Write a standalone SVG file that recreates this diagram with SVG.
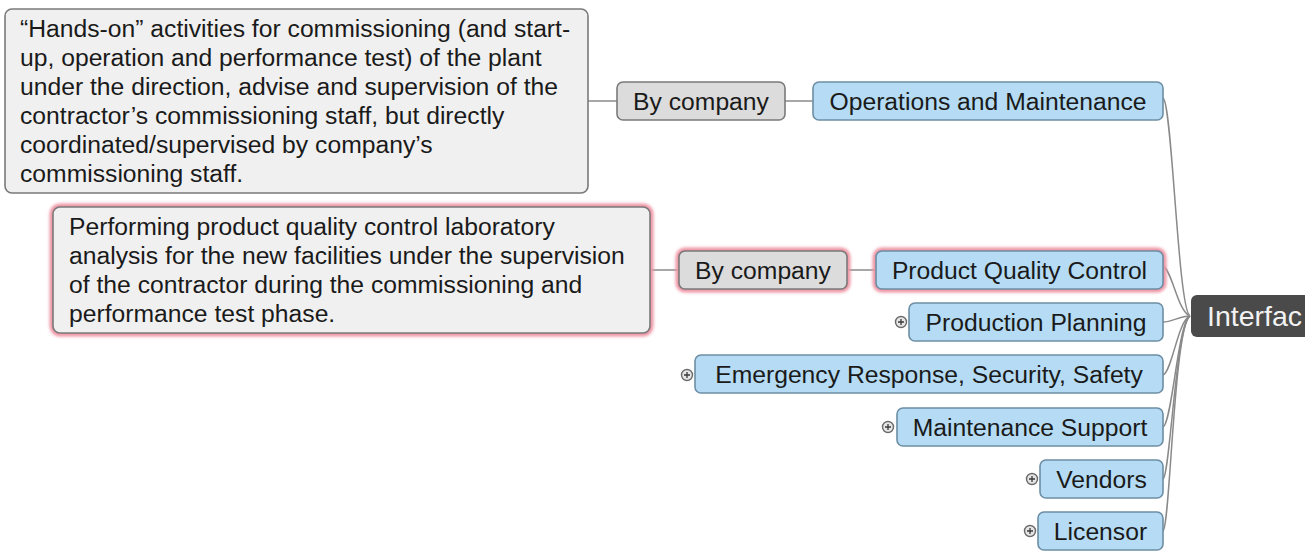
<svg xmlns="http://www.w3.org/2000/svg" width="1316" height="555" viewBox="0 0 1316 555">
  <style>
    text { font-family: "Liberation Sans", Arial, sans-serif; font-size: 24.7px; fill: #1a1a1a; }
    .note { fill: #f0f0f0; stroke: #7a7a7a; stroke-width: 1.6; }
    .tag { fill: #dcdcdc; stroke: #7a7a7a; stroke-width: 1.6; }
    .topic { fill: #b5dcf4; stroke: #6d8ea4; stroke-width: 1.6; }
    .root { fill: #4a4a4a; }
    .glow { fill: none; stroke: #ee94a4; stroke-width: 7; filter: url(#soft); }
    .mid { text-anchor: middle; }
    .conn { fill: none; stroke: #8a8a8a; stroke-width: 1.5; }
    .exp circle { fill: #e6e6e6; stroke: #6a6a6a; stroke-width: 1.4; }
    .exp path { stroke: #3a3a3a; stroke-width: 1.3; }
  </style>
  <defs>
    <filter id="soft" x="-10%" y="-30%" width="120%" height="160%">
      <feGaussianBlur stdDeviation="1.8"/>
    </filter>
    <clipPath id="edge"><rect x="0" y="0" width="1305" height="555"/></clipPath>
  </defs>

  <rect width="1316" height="555" fill="#ffffff"/>

  <!-- connectors -->
  <g id="connectors">
    <path class="conn" d="M588 101 H617"/>
    <path class="conn" d="M785 101 H813"/>
    <path class="conn" d="M650 270 H679"/>
    <path class="conn" d="M847 270 H876"/>
    <path class="conn" d="M1163 98 C1172 100 1178 310 1190 316"/>
    <path class="conn" d="M1163 266 C1172 270 1178 312 1190 316"/>
    <path class="conn" d="M1163 322 C1172 322 1180 316 1190 316"/>
    <path class="conn" d="M1163 375 C1172 372 1178 320 1190 316"/>
    <path class="conn" d="M1163 427 C1172 424 1178 322 1190 316"/>
    <path class="conn" d="M1163 479 C1170 476 1176 324 1190 316"/>
    <path class="conn" d="M1163 531 C1170 528 1174 326 1190 316"/>
  </g>

  <!-- note: hands-on commissioning -->
  <g id="note-handson">
    <rect class="note" x="5" y="9" width="583" height="184" rx="7"/>
    <text x="20" y="37">“Hands-on” activities for commissioning (and start-</text>
    <text x="20" y="66">up, operation and performance test) of the plant</text>
    <text x="20" y="95">under the direction, advise and supervision of the</text>
    <text x="20" y="124">contractor’s commissioning staff, but directly</text>
    <text x="20" y="153">coordinated/supervised by company’s</text>
    <text x="20" y="182">commissioning staff.</text>
  </g>

  <g id="by-company-1">
    <rect class="tag" x="617" y="82" width="168" height="38" rx="6"/>
    <text class="mid" x="701" y="110">By company</text>
  </g>

  <g id="operations-maintenance">
    <rect class="topic" x="813" y="82" width="350" height="38" rx="6"/>
    <text class="mid" x="988" y="110">Operations and Maintenance</text>
  </g>

  <!-- note: quality control lab analysis (highlighted) -->
  <g id="note-lab">
    <rect class="glow" x="53" y="207" width="597" height="126" rx="7"/>
    <rect class="note" x="53" y="207" width="597" height="126" rx="7"/>
    <text x="69" y="235">Performing product quality control laboratory</text>
    <text x="69" y="264">analysis for the new facilities under the supervision</text>
    <text x="69" y="293">of the contractor during the commissioning and</text>
    <text x="69" y="322">performance test phase.</text>
  </g>

  <g id="by-company-2">
    <rect class="glow" x="679" y="251" width="168" height="38" rx="6"/>
    <rect class="tag" x="679" y="251" width="168" height="38" rx="6"/>
    <text class="mid" x="763" y="279">By company</text>
  </g>

  <g id="product-quality-control">
    <rect class="glow" x="876" y="251" width="287" height="38" rx="6"/>
    <rect class="topic" x="876" y="251" width="287" height="38" rx="6"/>
    <text class="mid" x="1019.5" y="279">Product Quality Control</text>
  </g>

  <g id="production-planning">
    <g class="exp"><circle cx="901" cy="322" r="5.5"/><path d="M898 322 H904 M901 319 V325"/></g>
    <rect class="topic" x="909" y="303" width="254" height="38" rx="6"/>
    <text class="mid" x="1036" y="331">Production Planning</text>
  </g>

  <g id="emergency-response">
    <g class="exp"><circle cx="687" cy="375" r="5.5"/><path d="M684 375 H690 M687 372 V378"/></g>
    <rect class="topic" x="695" y="355" width="468" height="38" rx="6"/>
    <text class="mid" x="929" y="383">Emergency Response, Security, Safety</text>
  </g>

  <g id="maintenance-support">
    <g class="exp"><circle cx="888" cy="427" r="5.5"/><path d="M885 427 H891 M888 424 V430"/></g>
    <rect class="topic" x="897" y="408" width="266" height="38" rx="6"/>
    <text class="mid" x="1030" y="436">Maintenance Support</text>
  </g>

  <g id="vendors">
    <g class="exp"><circle cx="1032" cy="479" r="5.5"/><path d="M1029 479 H1035 M1032 476 V482"/></g>
    <rect class="topic" x="1040" y="460" width="123" height="38" rx="6"/>
    <text class="mid" x="1101.5" y="488">Vendors</text>
  </g>

  <g id="licensor">
    <g class="exp"><circle cx="1030" cy="531" r="5.5"/><path d="M1027 531 H1033 M1030 528 V534"/></g>
    <rect class="topic" x="1038" y="512" width="125" height="38" rx="6"/>
    <text class="mid" x="1100.5" y="540">Licensor</text>
  </g>

  <g id="interfaces" clip-path="url(#edge)">
    <rect class="root" x="1191" y="295" width="130" height="42" rx="6"/>
    <text x="1207" y="326" style="fill:#f2f2f2;font-size:28.5px">Interfac</text>
  </g>
</svg>
